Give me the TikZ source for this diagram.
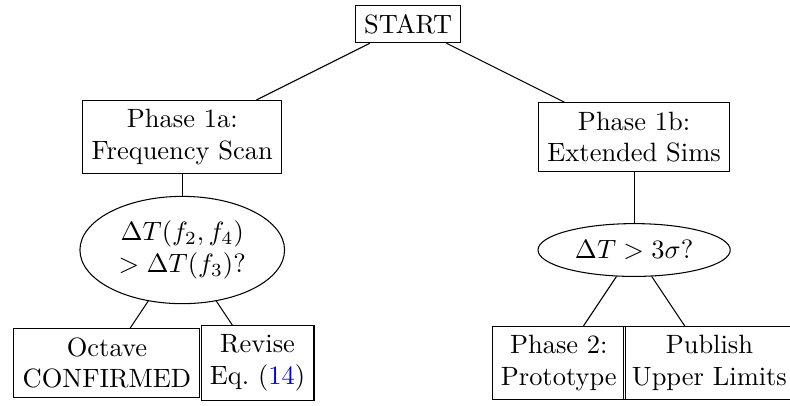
\documentclass[tikz,border=0pt]{standalone}
\usepackage{amsmath}
\usepackage{xcolor}
\usetikzlibrary{shapes.geometric}

\begin{document}
\begin{tikzpicture}[
                box_node/.style={rectangle, draw, align=center},
                test_node/.style={ellipse, draw, align=center},
                tree_link/.style={draw, thin}
            ]
                \useasboundingbox (-5.42,-5.06) rectangle (5.07,0.32);

                % Root
                \node[box_node] (start) at (0,0) {START};

                % Phase 1 branches
                \node[box_node] (phase1a) at (-3,-1.5) {Phase 1a:\\Frequency Scan};
                \node[box_node] (phase1b) at (3,-1.5) {Phase 1b:\\Extended Sims};

                % Decision tests
                \node[test_node] (test1a) at (-3,-3) {$\Delta T(f_2, f_4)$\\$> \Delta T(f_3)$?};
                \node[test_node] (test1b) at (3,-3) {$\Delta T > 3\sigma$?};

                % Outcomes
                \node[box_node] (octave) at (-4,-4.5) {Octave\\CONFIRMED};
                \node[box_node] (revise) at (-2,-4.5) {Revise\\Eq.~(\textcolor{blue}{14})};
                \node[box_node] (phase2) at (2,-4.5) {Phase 2:\\Prototype};
                \node[box_node] (publish) at (4,-4.5) {Publish\\Upper Limits};

                % Links
                \path[tree_link] (start) -- (phase1a);
                \path[tree_link] (start) -- (phase1b);
                \path[tree_link] (phase1a) -- (test1a);
                \path[tree_link] (phase1b) -- (test1b);
                \path[tree_link] (test1a) -- (octave);
                \path[tree_link] (test1a) -- (revise);
                \path[tree_link] (test1b) -- (phase2);
                \path[tree_link] (test1b) -- (publish);

            \end{tikzpicture}
\end{document}
